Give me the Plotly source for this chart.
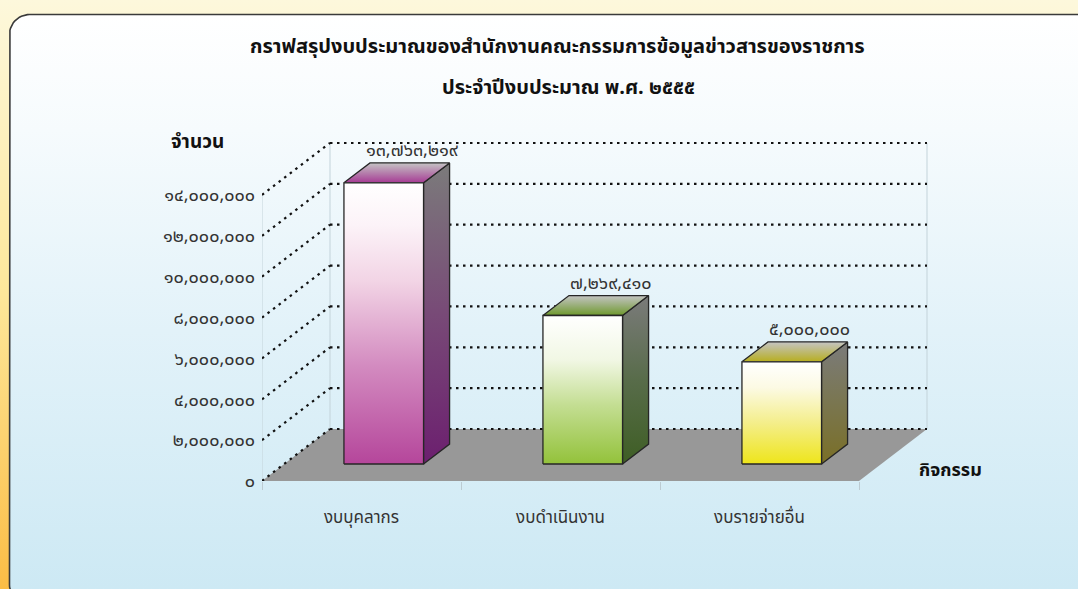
import numpy as np
import plotly.graph_objects as go

# ---------------- data ----------------
title_line1 = "กราฟสรุปงบประมาณของสำนักงานคณะกรรมการข้อมูลข่าวสารของราชการ"
title_line2 = "ประจำปีงบประมาณ พ.ศ. ๒๕๕๕"
categories = ["งบบุคลากร", "งบดำเนินงาน", "งบรายจ่ายอื่น"]
values = [13763219, 7269410, 5000000]
value_labels = ["๑๓,๗๖๓,๒๑๙", "๗,๒๖๙,๔๑๐", "๕,๐๐๐,๐๐๐"]
y_tick_values = [0, 2000000, 4000000, 6000000, 8000000, 10000000, 12000000, 14000000]
y_tick_labels = ["๐", "๒,๐๐๐,๐๐๐", "๔,๐๐๐,๐๐๐", "๖,๐๐๐,๐๐๐", "๘,๐๐๐,๐๐๐",
                 "๑๐,๐๐๐,๐๐๐", "๑๒,๐๐๐,๐๐๐", "๑๔,๐๐๐,๐๐๐"]
y_title = "จำนวน"
x_title = "กิจกรรม"

# ---------------- geometry / style ----------------
W, H = 1078, 589
X0PX = 262.0           # pixel of left floor edge (x = -0.5)
PX_PER_CAT = 199.0
Y0PX = 481.0           # pixel of value 0 at front
PX_PER_VAL = 40.86 / 2e6
X_RANGE = [-0.5, 3.0]
Y_RANGE = [0, 17e6]
DEPTH_DX_PX, DEPTH_DY_PX = 68.0, 52.0
DXU = DEPTH_DX_PX / PX_PER_CAT
DYV = DEPTH_DY_PX / PX_PER_VAL
HALF_W = 0.2
Z_FRONT, Z_BACK = 0.327, 0.71

x_dom = [X0PX / W, (X0PX + (X_RANGE[1] - X_RANGE[0]) * PX_PER_CAT) / W]
y_dom = [(H - Y0PX) / H, (H - (Y0PX - Y_RANGE[1] * PX_PER_VAL)) / H]

FONT = "Tahoma, 'Noto Sans Thai', 'Leelawadee UI', 'DejaVu Sans', sans-serif"

bar_styles = [
    dict(front=[[0, '#b5469b'], [0.35, '#d38bc0'], [0.65, '#f2d4e5'], [0.85, '#fcf3f8'], [1, '#ffffff']],
         side=[[0, '#6c1f6f'], [0.5, '#784a77'], [1, '#7b7b7b']],
         top=[[0, '#a63b94'], [1, '#c4c4c4']]),
    dict(front=[[0, '#93c23a'], [0.4, '#c4de93'], [0.7, '#f1f7e4'], [1, '#ffffff']],
         side=[[0, '#3e5e24'], [0.5, '#586c4a'], [1, '#7b7b7b']],
         top=[[0, '#6e992d'], [1, '#c4c4c4']]),
    dict(front=[[0, '#eee51a'], [0.4, '#f4ee8a'], [0.75, '#fcfae4'], [1, '#ffffff']],
         side=[[0, '#7a6f26'], [0.5, '#7a7650'], [1, '#7b7b7b']],
         top=[[0, '#b7ae1e'], [1, '#c4c4c4']]),
]


def proj(x, v, z):
    return x + z * DXU, v + z * DYV


fig = go.Figure()

# ---------- background (pixel space on x/y) ----------
fig.add_trace(go.Scatter(
    x=[0, W, W, 0, 0], y=[0, 0, H, H, 0], mode='lines', fill='toself',
    line=dict(width=0), hoverinfo='skip', showlegend=False,
    fillgradient=dict(type='vertical', start=0, stop=H,
                      colorscale=[[0, '#fdf8dc'], [0.5, '#fde79a'], [1, '#fbbd45']]),
    xaxis='x', yaxis='y'))

r = 20
px0, py0, px1, py1 = 9.5, 14.5, 1095, 605
th = np.linspace(np.pi, 1.5 * np.pi, 16)
arc_tl_x = list(px0 + r + r * np.cos(th))
arc_tl_y = list(py0 + r + r * np.sin(th))
th2 = np.linspace(0.5 * np.pi, np.pi, 16)
arc_bl_x = list(px0 + r + r * np.cos(th2))
arc_bl_y = list(py1 - r + r * np.sin(th2))
panel_x = [px1] + arc_bl_x + arc_tl_x + [px1, px1]
panel_y = [py1] + arc_bl_y + arc_tl_y + [py0, py1]
fig.add_trace(go.Scatter(
    x=panel_x, y=panel_y, mode='lines', fill='toself',
    line=dict(color='#3a3a3a', width=1.6), hoverinfo='skip', showlegend=False,
    fillgradient=dict(type='vertical', start=py0, stop=H,
                      colorscale=[[0, '#ffffff'], [0.2, '#f6fbfd'], [0.55, '#e2f2f9'], [1, '#cde9f4']]),
    xaxis='x', yaxis='y'))

# ---------- chart (data space on x2/y2) ----------
def add_line(xs, ys, color, width, dash='solid'):
    fig.add_trace(go.Scatter(x=xs, y=ys, mode='lines', line=dict(color=color, width=width, dash=dash),
                             hoverinfo='skip', showlegend=False, xaxis='x2', yaxis='y2'))


xl, xr = X_RANGE[0], 2.5
top_v = y_tick_values[-1]

# faint frame lines
fx, fy = [], []
for (a, b) in [((xl, 0, 0), (xl, top_v, 0)), ((xl, 0, 1), (xl, top_v, 1)), ((xr, 0, 1), (xr, top_v, 1))]:
    p, q = proj(*a), proj(*b)
    fx += [p[0], q[0], None]
    fy += [p[1], q[1], None]
add_line(fx, fy, '#c3d3da', 1)

# floor
floor = [proj(xl, 0, 0), proj(xr, 0, 0), proj(xr, 0, 1), proj(xl, 0, 1), proj(xl, 0, 0)]
fig.add_trace(go.Scatter(x=[p[0] for p in floor], y=[p[1] for p in floor], mode='lines', fill='toself',
                         fillcolor='#989898', line=dict(width=0), hoverinfo='skip', showlegend=False,
                         xaxis='x2', yaxis='y2'))

# dotted gridlines: back wall + side wall
gx, gy = [], []
for v in y_tick_values:
    a, b = proj(xl, v, 1), proj(xr, v, 1)
    gx += [a[0], b[0], None]
    gy += [a[1], b[1], None]
    a, b = proj(xl, v, 0), proj(xl, v, 1)
    gx += [a[0], b[0], None]
    gy += [a[1], b[1], None]
add_line(gx, gy, '#111111', 2.2, dash='2.5px,4.5px')

# bars
for k, (val, st) in enumerate(zip(values, bar_styles)):
    x0, x1 = k - HALF_W, k + HALF_W
    faces = [
        ('side', [(x1, 0, Z_FRONT), (x1, 0, Z_BACK), (x1, val, Z_BACK), (x1, val, Z_FRONT)]),
        ('top', [(x0, val, Z_FRONT), (x1, val, Z_FRONT), (x1, val, Z_BACK), (x0, val, Z_BACK)]),
        ('front', [(x0, 0, Z_FRONT), (x1, 0, Z_FRONT), (x1, val, Z_FRONT), (x0, val, Z_FRONT)]),
    ]
    for name, pts in faces:
        pp = [proj(*p) for p in pts]
        pp.append(pp[0])
        ys = [p[1] for p in pp]
        fig.add_trace(go.Scatter(
            x=[p[0] for p in pp], y=ys, mode='lines', fill='toself',
            line=dict(color='#262626', width=1.3), hoverinfo='skip', showlegend=False,
            fillgradient=dict(type='vertical', start=min(ys), stop=max(ys), colorscale=st[name]),
            xaxis='x2', yaxis='y2'))
    lx, ly = proj(k, val, Z_BACK)
    fig.add_annotation(x=lx, y=ly, xref='x2', yref='y2', text=value_labels[k], showarrow=False,
                       xanchor='center', yanchor='middle', yshift=12, xshift=2,
                       font=dict(family=FONT, size=18, color='#333333'))

annotations_text = [
    dict(text="<b>" + title_line1 + "</b>", x=557 / W, y=1 - 47 / H, size=20),
    dict(text="<b>" + title_line2 + "</b>", x=568 / W, y=1 - 88 / H, size=20),
    dict(text="<b>" + y_title + "</b>", x=197 / W, y=1 - 143 / H, size=19),
    dict(text="<b>" + x_title + "</b>", x=950 / W, y=1 - 470 / H, size=18),
]
for a in annotations_text:
    fig.add_annotation(x=a['x'], y=a['y'], xref='paper', yref='paper', text=a['text'], showarrow=False,
                       xanchor='center', yanchor='middle',
                       font=dict(family=FONT, size=a['size'], color='#111111'))

fig.update_layout(
    template='none',
    width=W, height=H, margin=dict(l=0, r=0, t=0, b=0, pad=0), autosize=False,
    paper_bgcolor='#fdf8dc', plot_bgcolor='rgba(0,0,0,0)', showlegend=False,
    xaxis=dict(domain=[0, 1], range=[0, W], visible=False, fixedrange=True, automargin=False),
    yaxis=dict(domain=[0, 1], range=[H, 0], visible=False, fixedrange=True, automargin=False),
    xaxis2=dict(domain=x_dom, range=X_RANGE, anchor='y2', showgrid=False, zeroline=False, showline=False,
                automargin=False, fixedrange=True,
                tickvals=[0, 1, 2], ticktext=categories, ticks='', ticklabelstandoff=24,
                tickfont=dict(family=FONT, size=17, color='#333333'),
                minor=dict(tickvals=[-0.5, 0.5, 1.5, 2.5], ticks='outside', ticklen=8,
                           tickcolor='#bccbd2', tickwidth=1, showgrid=False)),
    yaxis2=dict(domain=y_dom, range=Y_RANGE, anchor='x2', showgrid=False, zeroline=False, showline=False,
                automargin=False, fixedrange=True,
                tickvals=y_tick_values, ticktext=y_tick_labels, ticks='', ticklabelstandoff=6,
                tickfont=dict(family=FONT, size=18, color='#333333')),
)

fig.write_html("out.html", config={'displayModeBar': False},
               post_script="document.body.style.margin='0';")
